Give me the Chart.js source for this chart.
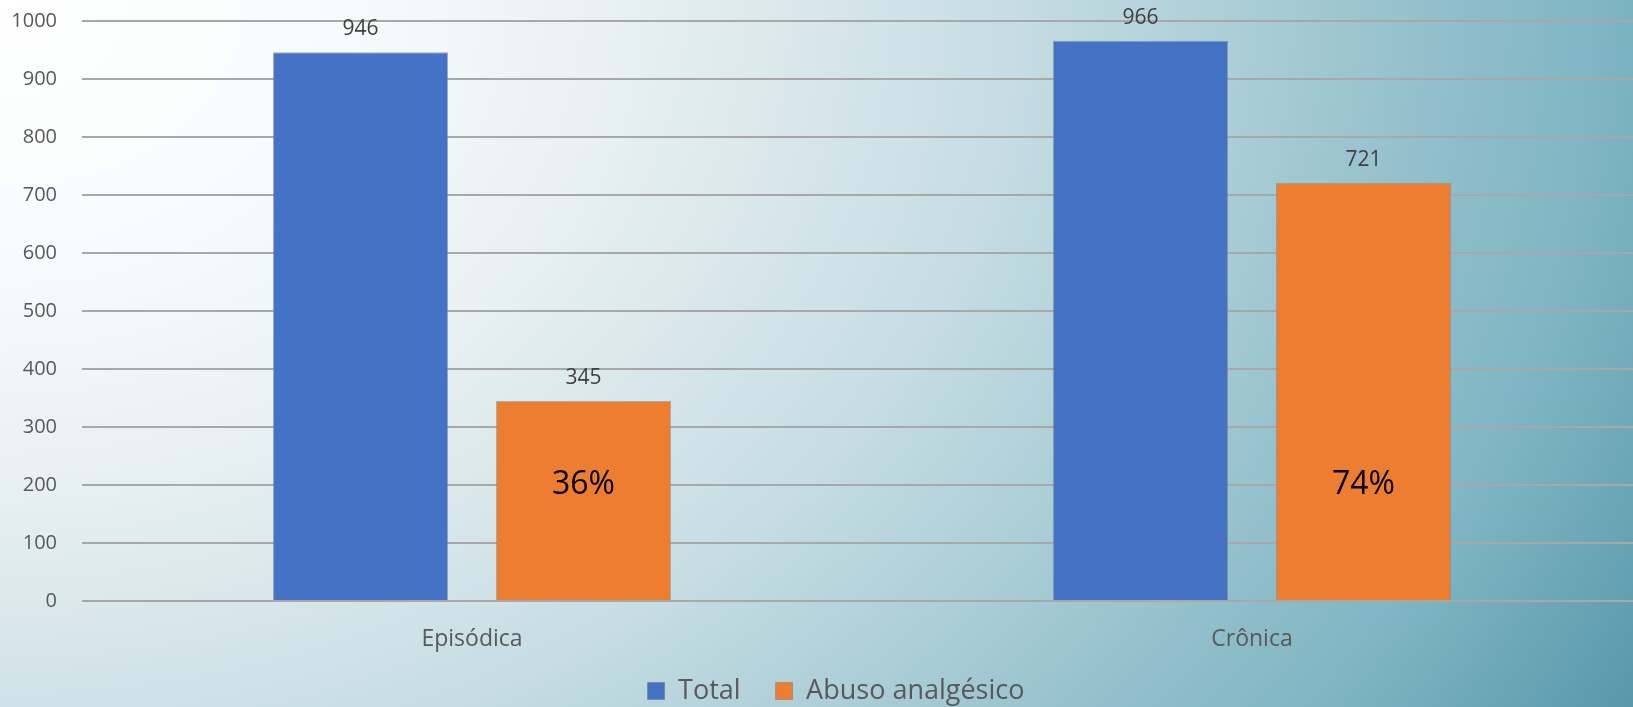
<!DOCTYPE html>
<html>
<head>
<meta charset="utf-8">
<script src="https://cdn.jsdelivr.net/npm/chart.js@4/dist/chart.umd.min.js"></script>
<style>
  html, body { margin: 0; padding: 0; }
  body {
    width: 1633px; height: 707px; overflow: hidden;
    background: radial-gradient(1869px 1453px at 0 0, #ffffff 0%, #f8fbfc 18%, #ebf2f4 31%, #dce9ed 41%, #c6dde3 54%, #a9cdd6 67%, #94c0cc 76%, #7fb5c3 86%, #5898aa 100%);
  }
  #wrap { width: 1642px; height: 707px; }
</style>
</head>
<body>
<div id="wrap"><canvas id="myChart"></canvas></div>
<script>
// --- données ---
const categories = ['Episódica', 'Crônica'];
const totalValues = [946, 966];
const abusoValues = [345, 721];
const pctLabels = ['36%', '74%'];
const yTicks = [0, 100, 200, 300, 400, 500, 600, 700, 800, 900, 1000];

const FONT = '"Open Sans", "DejaVu Sans", sans-serif';
const PCT_AT = 200; // hauteur (valeur) des étiquettes %

// étiquettes de valeurs au-dessus des barres + % dans les barres orange
const labelsPlugin = {
    id: 'barLabels',
    afterInit(chart) {
        // hauteur fixe de la légende
        const fit = chart.legend.fit;
        chart.legend.fit = function () { fit.call(this); this.height = 53; };
    },
    afterLayout(chart) {
        // on remonte / décale un peu la légende
        const lg = chart.legend;
        lg.top -= 11.5;
        lg.left += 9.5;
        lg.right += 9.5;
    },
    afterDatasetsDraw(chart) {
        const ctx = chart.ctx;
        ctx.save();
        ctx.textAlign = 'center';
        ctx.textBaseline = 'middle';
        chart.data.datasets.forEach((ds, i) => {
            chart.getDatasetMeta(i).data.forEach((bar, j) => {
                ctx.font = '21px ' + FONT;
                ctx.fillStyle = '#404040';
                ctx.fillText(ds.data[j], bar.x, bar.y - 23);
            });
        });
        const yPct = chart.scales.y.getPixelForValue(PCT_AT);
        chart.getDatasetMeta(1).data.forEach((bar, j) => {
            ctx.font = '32px ' + FONT;
            ctx.fillStyle = '#000000';
            ctx.fillText(pctLabels[j], bar.x, yPct);
        });
        ctx.restore();
    }
};

new Chart(document.getElementById('myChart'), {
    type: 'bar',
    data: {
        labels: categories,
        datasets: [
            { label: 'Total', data: totalValues, backgroundColor: '#4472c4', borderColor: 'rgba(110,120,140,0.6)', borderWidth: 1 },
            { label: 'Abuso analgésico', data: abusoValues, backgroundColor: '#ed7d31', borderColor: 'rgba(140,130,120,0.6)', borderWidth: 1 }
        ]
    },
    options: {
        responsive: true, maintainAspectRatio: false, animation: false,
        datasets: { bar: { categoryPercentage: 0.572, barPercentage: 0.785 } },
        layout: { padding: { top: 21, left: 11, right: 0, bottom: 0 } },
        scales: {
            x: {
                grid: { display: false, drawTicks: false }, border: { display: false },
                ticks: { color: '#595959', font: { family: FONT, size: 23 }, padding: 25 },
                afterFit: (scale) => { scale.height = 53; }
            },
            y: {
                min: 0, max: 1000,
                afterBuildTicks: (axis) => { axis.ticks = yTicks.map(v => ({ value: v })); },
                grid: { color: '#a8a8a8', lineWidth: 2, drawTicks: false },
                border: { display: false },
                ticks: { color: '#595959', font: { family: FONT, size: 20 }, padding: 25, callback: (v) => String(v) },
                afterFit: (scale) => { scale.width = 71; scale.paddingTop = 0; scale.paddingBottom = 0; }
            }
        },
        plugins: {
            legend: {
                position: 'bottom',
                labels: { color: '#595959', font: { family: FONT, size: 27 }, boxWidth: 17, boxHeight: 17, padding: 35 }
            },
            tooltip: { enabled: false }
        }
    },
    plugins: [labelsPlugin]
});
</script>
</body>
</html>
